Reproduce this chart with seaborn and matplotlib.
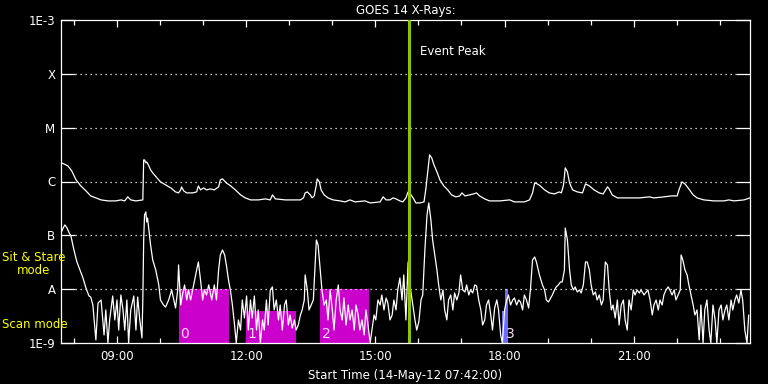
import matplotlib
matplotlib.use("Agg")
import matplotlib.pyplot as plt
import seaborn as sns

# ---------------- data ----------------
TITLE = "GOES 14 X-Rays:"
XLABEL = "Start Time (14-May-12 07:42:00)"
T_START, T_END = 7.70, 23.70            # hours of day
YMIN, YMAX = 1e-9, 1e-3

YTICKS = [1e-9, 1e-8, 1e-7, 1e-6, 1e-5, 1e-4, 1e-3]
YTICK_LABELS = ["1E-9", "A", "B", "C", "M", "X", "1E-3"]
GRID_LEVELS = [1e-8, 1e-7, 1e-6, 1e-5, 1e-4]

XTICKS = [9, 12, 15, 18, 21]
XTICK_LABELS = ["09:00", "12:00", "15:00", "18:00", "21:00"]
XMINOR = [8, 10, 11, 13, 14, 16, 17, 19, 20, 22, 23]

EVENT_PEAK = 15.78
EVENT_LABEL = "Event Peak"

# 1-8 A channel (upper curve)
LONG_T = [7.70, 7.77, 7.86, 7.95, 8.05, 8.16, 8.28, 8.39, 8.51, 8.63, 8.79, 8.97,
          9.09, 9.18, 9.25, 9.32, 9.44, 9.60, 9.62, 9.64, 9.67, 9.69, 9.74, 9.78,
          9.85, 9.95, 10.01, 10.13, 10.25, 10.36, 10.43, 10.48, 10.50, 10.55, 10.62,
          10.76, 10.85, 10.89, 10.94, 11.01, 11.08, 11.17, 11.26, 11.36, 11.40, 11.45,
          11.54, 11.64, 11.75, 11.87, 11.98, 12.10, 12.28, 12.45, 12.56, 12.61, 12.68,
          12.91, 13.26, 13.33, 13.37, 13.42, 13.49, 13.53, 13.58, 13.63, 13.65, 13.70,
          13.74, 13.81, 13.90, 14.02, 14.18, 14.30, 14.41, 14.53, 14.76, 14.88, 15.11,
          15.18, 15.25, 15.34, 15.41, 15.48, 15.57, 15.64, 15.71, 15.76, 15.83, 15.89,
          15.94, 16.03, 16.13, 16.17, 16.22, 16.26, 16.31, 16.36, 16.43, 16.50, 16.59,
          16.68, 16.77, 16.87, 16.96, 17.01, 17.08, 17.19, 17.28, 17.35, 17.42, 17.54,
          17.65, 17.89, 18.12, 18.23, 18.46, 18.58, 18.65, 18.70, 18.76, 18.83, 18.93,
          19.04, 19.16, 19.27, 19.32, 19.37, 19.41, 19.46, 19.51, 19.58, 19.69, 19.81,
          19.88, 19.97, 20.08, 20.20, 20.29, 20.39, 20.43, 20.50, 20.62, 20.78, 21.13,
          21.36, 21.47, 21.70, 21.87, 22.01, 22.05, 22.12, 22.19, 22.28, 22.38, 22.47,
          22.63, 22.86, 23.09, 23.21, 23.33, 23.56, 23.70]
LONG_F = [2.22e-6, 2.12e-6, 1.95e-6, 1.57e-6, 1.07e-6, 8.28e-7, 6.68e-7, 5.40e-7, 4.96e-7, 4.55e-7, 4.36e-7, 4.36e-7,
          4.55e-7, 4.36e-7, 5.18e-7, 4.55e-7, 4.36e-7, 4.55e-7, 2.52e-6, 2.52e-6, 2.22e-6, 2.31e-6, 1.95e-6, 1.64e-6,
          1.38e-6, 1.12e-6, 9.84e-7, 8.65e-7, 7.60e-7, 6.41e-7, 6.14e-7, 6.98e-7, 7.94e-7, 6.68e-7, 6.14e-7,
          6.14e-7, 6.41e-7, 8.28e-7, 6.98e-7, 7.60e-7, 6.98e-7, 7.28e-7, 6.98e-7, 7.94e-7, 1.07e-6, 1.12e-6,
          9.42e-7, 8.28e-7, 6.98e-7, 5.64e-7, 4.96e-7, 4.55e-7, 4.55e-7, 4.75e-7, 4.55e-7, 5.64e-7, 4.75e-7,
          4.55e-7, 4.55e-7, 4.96e-7, 6.14e-7, 6.41e-7, 5.64e-7, 4.96e-7, 5.40e-7, 8.65e-7, 1.12e-6, 9.84e-7,
          6.98e-7, 5.64e-7, 4.96e-7, 4.55e-7, 4.36e-7, 4.18e-7, 4.55e-7, 4.18e-7, 4.36e-7, 4.00e-7, 4.18e-7,
          5.18e-7, 4.55e-7, 4.55e-7, 4.96e-7, 4.75e-7, 4.36e-7, 4.18e-7, 4.96e-7, 6.41e-7, 5.64e-7, 4.75e-7,
          4.00e-7, 4.00e-7, 4.18e-7, 6.98e-7, 1.64e-6, 3.12e-6, 2.73e-6, 2.04e-6, 1.51e-6, 1.07e-6, 8.28e-7,
          6.98e-7, 5.64e-7, 5.18e-7, 5.40e-7, 6.14e-7, 5.40e-7, 5.64e-7, 5.88e-7, 6.14e-7, 5.40e-7, 4.75e-7,
          4.36e-7, 4.36e-7, 4.55e-7, 4.18e-7, 4.18e-7, 4.55e-7, 6.14e-7, 9.42e-7, 9.02e-7, 8.28e-7, 6.98e-7,
          6.14e-7, 5.88e-7, 6.41e-7, 6.14e-7, 8.65e-7, 1.79e-6, 1.51e-6, 9.42e-7, 6.98e-7, 6.41e-7, 6.14e-7,
          9.02e-7, 8.28e-7, 6.98e-7, 6.14e-7, 5.88e-7, 7.94e-7, 7.28e-7, 5.64e-7, 4.96e-7, 4.96e-7, 4.96e-7,
          5.18e-7, 4.96e-7, 5.18e-7, 5.40e-7, 5.40e-7, 6.98e-7, 9.84e-7, 9.02e-7, 7.28e-7, 5.64e-7, 4.96e-7,
          4.55e-7, 4.36e-7, 4.36e-7, 4.55e-7, 4.36e-7, 4.55e-7, 4.96e-7]

# 0.5-4 A channel (lower curve)
SHORT_T = [7.70, 7.75, 7.79, 7.84, 7.89, 7.93, 8.00, 8.07, 8.14, 8.21, 8.28, 8.35, 8.39, 8.44, 8.49, 8.51,
           8.56, 8.63, 8.67, 8.70, 8.74, 8.79, 8.83, 8.86, 8.90, 8.95, 9.00, 9.04, 9.09, 9.14, 9.18, 9.23,
           9.27, 9.32, 9.39, 9.44, 9.48, 9.53, 9.58, 9.60, 9.62, 9.64, 9.67, 9.69, 9.71, 9.74, 9.78, 9.83,
           9.90, 9.97, 10.01, 10.08, 10.13, 10.20, 10.27, 10.32, 10.36, 10.41, 10.43, 10.48, 10.52, 10.57,
           10.62, 10.66, 10.71, 10.78, 10.85, 10.89, 10.94, 10.99, 11.03, 11.08, 11.13, 11.20, 11.26, 11.31,
           11.36, 11.40, 11.45, 11.50, 11.54, 11.59, 11.64, 11.68, 11.73, 11.77, 11.82, 11.87, 11.91, 11.96,
           12.01, 12.05, 12.10, 12.14, 12.19, 12.24, 12.28, 12.33, 12.38, 12.42, 12.47, 12.51, 12.56, 12.61,
           12.65, 12.70, 12.75, 12.79, 12.84, 12.89, 12.93, 12.98, 13.02, 13.07, 13.12, 13.16, 13.21, 13.26,
           13.30, 13.35, 13.37, 13.42, 13.46, 13.51, 13.56, 13.60, 13.63, 13.67, 13.72, 13.76, 13.81, 13.86,
           13.90, 13.95, 14.00, 14.04, 14.09, 14.14, 14.18, 14.23, 14.27, 14.32, 14.37, 14.41, 14.46, 14.51,
           14.55, 14.60, 14.64, 14.69, 14.74, 14.78, 14.83, 14.88, 14.92, 14.97, 15.01, 15.06, 15.11, 15.15,
           15.20, 15.25, 15.29, 15.34, 15.39, 15.43, 15.48, 15.52, 15.57, 15.62, 15.66, 15.71, 15.76, 15.78,
           15.82, 15.87, 15.92, 15.96, 16.01, 16.06, 16.10, 16.15, 16.20, 16.24, 16.29, 16.33, 16.38, 16.43,
           16.47, 16.52, 16.57, 16.61, 16.66, 16.70, 16.75, 16.80, 16.84, 16.89, 16.94, 16.98, 17.03, 17.08,
           17.12, 17.17, 17.21, 17.26, 17.31, 17.35, 17.40, 17.45, 17.49, 17.54, 17.58, 17.63, 17.68, 17.72,
           17.77, 17.82, 17.86, 17.91, 17.95, 18.00, 18.05, 18.09, 18.14, 18.19, 18.23, 18.28, 18.33, 18.37,
           18.42, 18.46, 18.51, 18.56, 18.60, 18.65, 18.70, 18.74, 18.81, 18.88, 18.93, 18.97, 19.02, 19.07,
           19.11, 19.16, 19.20, 19.25, 19.30, 19.34, 19.39, 19.41, 19.46, 19.51, 19.55, 19.60, 19.64, 19.69,
           19.74, 19.78, 19.83, 19.88, 19.92, 19.97, 20.01, 20.06, 20.11, 20.15, 20.20, 20.25, 20.29, 20.34,
           20.39, 20.43, 20.48, 20.52, 20.57, 20.62, 20.66, 20.71, 20.76, 20.80, 20.85, 20.89, 20.94, 20.99,
           21.03, 21.08, 21.13, 21.17, 21.24, 21.29, 21.33, 21.38, 21.43, 21.47, 21.52, 21.57, 21.61, 21.66,
           21.70, 21.75, 21.80, 21.84, 21.89, 21.94, 21.98, 22.03, 22.08, 22.10, 22.14, 22.19, 22.24, 22.28,
           22.33, 22.38, 22.42, 22.47, 22.52, 22.56, 22.61, 22.65, 22.70, 22.75, 22.79, 22.84, 22.89, 22.93,
           22.98, 23.03, 23.07, 23.12, 23.16, 23.21, 23.26, 23.30, 23.35, 23.39, 23.44, 23.49, 23.53, 23.58,
           23.63, 23.67]
SHORT_F = [1.11e-7, 1.37e-7, 1.56e-7, 1.37e-7, 1.11e-7, 9.75e-8, 5.35e-8, 3.20e-8, 2.27e-8, 1.62e-8, 1.05e-8, 7.47e-9, 7.16e-9, 5.08e-9, 1.74e-9, 1.14e-9,
           5.54e-9, 6.30e-9, 2.68e-9, 1.41e-9, 4.11e-9, 1.00e-9, 2.68e-9, 4.11e-9, 7.47e-9, 2.68e-9, 6.30e-9, 1.74e-9, 7.80e-9, 4.11e-9, 1.74e-9, 6.30e-9,
           1.00e-9, 4.11e-9, 7.47e-9, 1.74e-9, 7.16e-9, 2.68e-9, 1.24e-9, 6.30e-9, 8.21e-8, 2.39e-7, 2.72e-7, 1.77e-7, 2.10e-7, 1.26e-7, 6.63e-8, 3.49e-8,
           2.27e-8, 1.20e-8, 6.30e-9, 5.08e-9, 4.66e-9, 6.30e-9, 9.66e-9, 6.30e-9, 4.47e-9, 9.66e-9, 2.82e-8, 5.08e-9, 7.80e-9, 1.20e-8,
           6.30e-9, 9.66e-9, 6.30e-9, 1.20e-8, 2.27e-8, 3.20e-8, 1.48e-8, 6.30e-9, 9.66e-9, 7.80e-9, 1.20e-8, 6.30e-9, 1.20e-8, 6.30e-9,
           2.27e-8, 4.32e-8, 5.35e-8, 4.32e-8, 2.82e-8, 1.48e-8, 8.87e-9, 5.08e-9, 2.16e-9, 1.00e-9, 2.68e-9, 1.74e-9, 6.30e-9, 2.92e-9,
           7.47e-9, 1.74e-9, 6.30e-9, 2.92e-9, 7.47e-9, 1.74e-9, 4.11e-9, 1.00e-9, 2.68e-9, 1.74e-9, 6.30e-9, 2.16e-9, 9.66e-9, 1.10e-8,
           4.11e-9, 6.30e-9, 2.68e-9, 5.08e-9, 1.74e-9, 5.08e-9, 6.30e-9, 2.16e-9, 3.31e-9, 1.90e-9, 2.68e-9, 1.74e-9, 2.16e-9, 3.31e-9,
           4.11e-9, 6.30e-9, 1.84e-8, 9.66e-9, 4.11e-9, 5.08e-9, 6.30e-9, 2.82e-8, 8.21e-8, 6.63e-8, 2.27e-8, 9.66e-9, 5.08e-9, 6.30e-9,
           2.68e-9, 9.66e-9, 4.11e-9, 1.74e-9, 6.30e-9, 1.20e-8, 4.11e-9, 2.68e-9, 6.86e-9, 2.16e-9, 5.08e-9, 2.68e-9, 4.11e-9, 1.74e-9,
           5.08e-9, 3.31e-9, 1.74e-9, 2.68e-9, 1.41e-9, 4.11e-9, 2.16e-9, 1.00e-9, 1.74e-9, 3.31e-9, 2.68e-9, 6.30e-9, 5.08e-9, 7.80e-9,
           4.11e-9, 6.86e-9, 5.54e-9, 2.68e-9, 3.31e-9, 6.30e-9, 4.11e-9, 9.66e-9, 1.62e-8, 6.30e-9, 1.84e-8, 2.68e-9, 3.20e-8, 6.30e-9,
           9.66e-9, 5.08e-9, 2.68e-9, 1.74e-9, 2.46e-9, 6.30e-9, 7.80e-9, 5.35e-8, 2.39e-7, 4.00e-7, 1.93e-7, 8.21e-8, 4.32e-8, 2.27e-8,
           1.20e-8, 6.30e-9, 9.66e-9, 4.11e-9, 2.68e-9, 6.30e-9, 7.80e-9, 4.11e-9, 8.50e-9, 6.30e-9, 8.50e-9, 1.84e-8, 9.66e-9, 8.87e-9,
           1.20e-8, 7.80e-9, 9.66e-9, 8.50e-9, 1.20e-8, 1.15e-8, 6.30e-9, 4.11e-9, 2.16e-9, 2.68e-9, 5.08e-9, 6.30e-9, 3.31e-9, 1.74e-9,
           4.47e-9, 6.30e-9, 4.11e-9, 1.41e-9, 1.00e-9, 4.11e-9, 6.30e-9, 7.80e-9, 5.08e-9, 6.30e-9, 6.86e-9, 5.08e-9, 6.30e-9, 5.78e-9,
           4.11e-9, 7.80e-9, 6.30e-9, 4.47e-9, 9.66e-9, 3.49e-8, 3.96e-8, 3.20e-8, 1.84e-8, 1.20e-8, 9.66e-9, 6.30e-9, 5.78e-9, 6.86e-9,
           7.80e-9, 9.66e-9, 1.10e-8, 1.20e-8, 1.36e-8, 1.36e-8, 2.27e-8, 1.37e-7, 8.21e-8, 2.27e-8, 1.20e-8, 9.66e-9, 1.10e-8, 8.87e-9,
           9.66e-9, 8.50e-9, 1.20e-8, 3.20e-8, 3.20e-8, 2.27e-8, 1.20e-8, 7.80e-9, 8.87e-9, 6.30e-9, 7.80e-9, 5.08e-9, 6.30e-9, 3.20e-8,
           2.82e-8, 9.66e-9, 4.11e-9, 5.08e-9, 2.92e-9, 6.30e-9, 2.16e-9, 5.08e-9, 6.30e-9, 2.68e-9, 1.74e-9, 6.30e-9, 4.11e-9, 9.66e-9,
           7.80e-9, 9.66e-9, 8.50e-9, 9.66e-9, 7.80e-9, 8.87e-9, 9.66e-9, 6.30e-9, 3.31e-9, 5.08e-9, 6.30e-9, 4.11e-9, 6.30e-9, 5.08e-9,
           7.80e-9, 9.66e-9, 1.10e-8, 9.66e-9, 7.80e-9, 9.66e-9, 6.30e-9, 7.80e-9, 9.66e-9, 4.32e-8, 3.49e-8, 2.27e-8, 1.84e-8, 1.20e-8,
           7.80e-9, 5.08e-9, 3.31e-9, 4.11e-9, 1.14e-9, 5.08e-9, 1.00e-9, 4.11e-9, 6.30e-9, 1.74e-9, 1.00e-9, 5.08e-9, 2.68e-9, 1.00e-9,
           4.11e-9, 5.08e-9, 2.68e-9, 4.11e-9, 5.08e-9, 2.68e-9, 6.30e-9, 4.11e-9, 6.30e-9, 7.80e-9, 5.54e-9, 9.66e-9, 6.30e-9, 1.74e-9,
           1.00e-9, 3.31e-9]

# observation blocks (start, end, top level)
BLOCK_LABELS = ["0", "1", "2", "3", ""]
BLOCK_START = [10.43, 12.00, 13.72, 18.00, 17.95]
BLOCK_END = [11.59, 13.16, 14.85, 18.07, 18.00]
BLOCK_TOP = [1e-8, 4e-9, 1e-8, 1e-8, 4e-9]
BLOCK_COLORS = ["#cc00cc", "#cc00cc", "#cc00cc", "#6b6bff", "#6b6bff"]

SIDE_LABELS = ["Sit & Stare\nmode", "Scan mode"]

# ---------------- styling ----------------
sns.set_theme(style="ticks", rc={
    "figure.facecolor": "black", "axes.facecolor": "black",
    "axes.edgecolor": "white", "text.color": "white",
    "xtick.color": "white", "ytick.color": "white",
    "axes.labelcolor": "white",
})
plt.rcParams["font.family"] = ["DejaVu Sans"]

fig = plt.figure(figsize=(7.68, 3.84), dpi=100)
ax = fig.add_axes([61 / 768, 41 / 384, 689 / 768, 323 / 384])
ax.set_yscale("log")

# blocks
widths = [e - s for s, e in zip(BLOCK_START, BLOCK_END)]
heights = [t - YMIN for t in BLOCK_TOP]
ax.bar(BLOCK_START, heights, width=widths, bottom=YMIN, align="edge",
       color=BLOCK_COLORS, linewidth=0, zorder=1)
for lab, s in zip(BLOCK_LABELS, BLOCK_START):
    if lab:
        ax.text(s + 0.03, 1.45e-9, lab, color="#f4dcf4", fontsize=10,
                ha="left", va="center", zorder=4)

# grid lines at flare class levels
for lev in GRID_LEVELS:
    ax.axhline(lev, xmin=0.021, xmax=0.979, color="white", lw=0.9,
               linestyle=(0, (1.0, 3.0)), zorder=1.5)

sns.lineplot(x=LONG_T, y=LONG_F, ax=ax, color="white", lw=0.9,
             estimator=None, sort=False, zorder=3)
sns.lineplot(x=SHORT_T, y=SHORT_F, ax=ax, color="white", lw=0.9,
             estimator=None, sort=False, zorder=3)

ax.axvline(EVENT_PEAK, color="#8cc400", lw=2.2, zorder=5)
ax.annotate(EVENT_LABEL, xy=(EVENT_PEAK, 1), xycoords=("data", "axes fraction"),
            xytext=(8, -23), textcoords="offset points", color="white",
            fontsize=8.5, ha="left", va="center")

ax.set_xlim(T_START, T_END)
ax.set_ylim(YMIN, YMAX)
ax.set_yticks(YTICKS)
ax.set_yticklabels(YTICK_LABELS)
ax.yaxis.set_minor_locator(matplotlib.ticker.NullLocator())
ax.set_xticks(XTICKS)
ax.set_xticklabels(XTICK_LABELS)
ax.set_xticks(XMINOR, minor=True)

ax.tick_params(axis="y", which="major", direction="in", length=10, width=0.9,
               left=True, right=True, labelsize=8.5, pad=4)
ax.tick_params(axis="x", which="major", direction="in", length=5, width=0.9,
               top=True, bottom=True, labelsize=8.5, pad=5)
ax.tick_params(axis="x", which="minor", direction="in", length=3.5, width=0.9,
               top=True, bottom=True)
for sp in ax.spines.values():
    sp.set_visible(True)
    sp.set_color("white")
    sp.set_linewidth(0.9)

ax.set_title(TITLE, fontsize=8.5, color="white", pad=4)
ax.set_xlabel(XLABEL, fontsize=8.5, color="white", labelpad=4)
ax.set_ylabel("")

fig.text(34 / 768, 1 - 264 / 384, SIDE_LABELS[0], color="#ffff00", fontsize=8.5,
         ha="center", va="center", linespacing=1.0)
fig.text(2 / 768, 1 - 324 / 384, SIDE_LABELS[1], color="#ffff00", fontsize=8.5,
         ha="left", va="center")

fig.savefig("out.png", dpi=100, facecolor="black")
